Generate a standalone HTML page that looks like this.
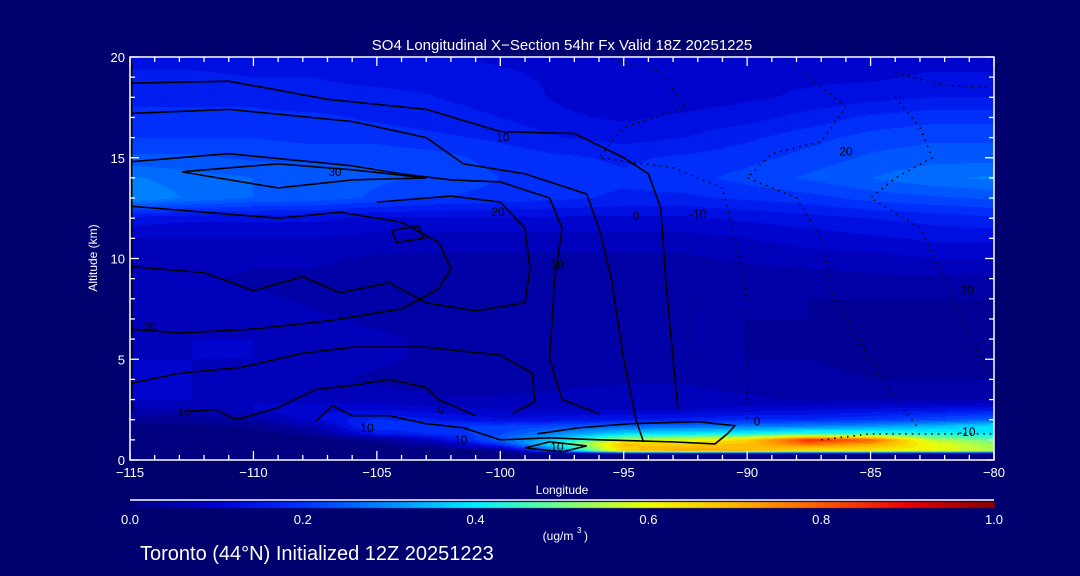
<!DOCTYPE html>
<html><head><meta charset="utf-8">
<style>
html,body{margin:0;padding:0;background:#00006e;}
#wrap{position:relative;width:1080px;height:576px;background:#00006e;overflow:hidden;font-family:"Liberation Sans",sans-serif;color:#fff;}
canvas{position:absolute;left:0;top:0;}
svg{position:absolute;left:0;top:0;}
</style></head>
<body>
<div id="wrap">
<canvas id="heat" width="1080" height="576"></canvas>
<svg id="ov" width="1080" height="576"></svg>
</div>
<script>
// ---- data ----
const lons = [-115,-112.5,-110,-107.5,-105,-102.5,-100,-97.5,-95,-92.5,-90,-87.5,-85,-82.5,-80];
const alts = [0,0.3,0.45,0.8,1,1.3,1.7,2,2.5,3,4,5,6,7,8,9,10,11,12,13,14,15,16,17,18,19,20];
const so4 = [
 [.01,.01,.01,.01,.01,.01,.01,.01,.01,.01,.01,.01,.01,.01,.01],
 [.01,.01,.01,.01,.01,.01,.01,.01,.01,.01,.01,.01,.01,.01,.01],
 [.01,.01,.01,.01,.01,.01,.02,.30,.66,.72,.70,.62,.62,.60,.55],
 [.01,.01,.01,.01,.02,.06,.20,.45,.68,.66,.68,.78,.72,.60,.52],
 [.01,.01,.01,.01,.03,.12,.25,.38,.55,.58,.66,.86,.80,.55,.48],
 [.01,.01,.01,.04,.15,.18,.22,.30,.38,.40,.42,.45,.45,.42,.40],
 [.02,.02,.03,.08,.20,.20,.20,.22,.25,.26,.27,.28,.30,.34,.38],
 [.03,.04,.06,.12,.18,.15,.13,.14,.15,.16,.18,.18,.20,.22,.25],
 [.07,.08,.10,.12,.12,.11,.10,.10,.10,.10,.11,.12,.13,.14,.15],
 [.10,.10,.10,.09,.09,.08,.08,.08,.09,.09,.08,.07,.07,.07,.07],
 [.11,.10,.09,.08,.07,.06,.06,.07,.07,.07,.06,.06,.05,.05,.05],
 [.10,.10,.10,.09,.08,.07,.06,.06,.06,.05,.05,.05,.04,.04,.04],
 [.09,.10,.10,.09,.08,.07,.06,.06,.05,.05,.05,.04,.04,.04,.04],
 [.08,.09,.09,.08,.07,.06,.06,.06,.05,.05,.05,.05,.04,.04,.04],
 [.08,.08,.08,.07,.06,.06,.06,.06,.05,.05,.05,.05,.05,.05,.05],
 [.08,.08,.07,.07,.06,.06,.06,.06,.06,.06,.06,.06,.07,.07,.07],
 [.09,.09,.08,.08,.07,.07,.07,.07,.07,.07,.08,.09,.09,.10,.10],
 [.10,.10,.10,.10,.09,.09,.09,.09,.09,.09,.10,.11,.12,.13,.13],
 [.14,.13,.13,.13,.12,.12,.12,.12,.12,.12,.13,.14,.15,.16,.17],
 [.30,.27,.25,.24,.22,.20,.19,.18,.17,.17,.18,.19,.21,.22,.23],
 [.28,.26,.25,.24,.23,.22,.20,.19,.18,.19,.21,.23,.25,.27,.28],
 [.23,.23,.22,.22,.22,.21,.19,.18,.17,.18,.19,.21,.23,.24,.24],
 [.20,.20,.20,.19,.19,.18,.17,.15,.14,.15,.17,.19,.21,.22,.22],
 [.18,.18,.18,.18,.17,.16,.15,.13,.12,.13,.14,.16,.18,.19,.19],
 [.17,.17,.17,.16,.16,.15,.14,.12,.11,.11,.12,.13,.14,.15,.15],
 [.16,.16,.15,.15,.14,.14,.13,.12,.12,.12,.12,.12,.12,.13,.13],
 [.13,.13,.13,.13,.13,.13,.12,.12,.11,.11,.11,.11,.11,.11,.11]
];
const xTicks = [-115,-110,-105,-100,-95,-90,-85,-80];
const yTicks = [0,5,10,15,20];
const cbTicks = ["0.0","0.2","0.4","0.6","0.8","1.0"];
const solidContours = [
 [[-115,18.7],[-111,18.8],[-107,17.9],[-103,17.4],[-100,16.3],[-97,16.2],[-95,15.0],[-94,14.2],[-93.5,12.5],[-93.3,9],[-93,5],[-92.8,2.5]],
 [[-115,17.2],[-111,17.4],[-106,16.8],[-103,16.0],[-101.5,14.7],[-99,14.2],[-96.5,13.2],[-96,11.5],[-95.5,9],[-95,5],[-94.5,2],[-94.2,0.9]],
 [[-115,14.8],[-111,15.2],[-106,14.6],[-104,14.2],[-102,13.9],[-100,13.8],[-98,13.0],[-97.5,11.5],[-97.8,9],[-98,5],[-97.5,3],[-96,2.3]],
 [[-112.9,14.3],[-109,14.7],[-106,14.4],[-103,14.0],[-106,13.9],[-109,13.5],[-112.9,14.3]],
 [[-115,12.6],[-112,12.3],[-109,12.0],[-106.5,12.3],[-104,11.8],[-102.5,10.8],[-102,9.5],[-102.5,8.5],[-104,7.5],[-107,6.9],[-110,6.5],[-113,6.3],[-115,6.5]],
 [[-115,9.6],[-112,9.3],[-110,8.4],[-108,9.1],[-106.5,8.3],[-104.5,8.8],[-103,7.8],[-101,7.4],[-99,7.8],[-98.8,9.5],[-99,11.5],[-100,12.8],[-102,13.1],[-105,12.8]],
 [[-104.4,11.4],[-103.3,11.6],[-103.1,11.0],[-104.2,10.8],[-104.4,11.4]],
 [[-115,3.8],[-113,4.3],[-110.5,4.6],[-108,5.3],[-106,5.6],[-103,5.6],[-100,5.2],[-98.7,4.3],[-98.6,2.9],[-99.5,2.3]],
 [[-113,2.4],[-111.5,2.5],[-110.7,2.0],[-109,2.6],[-107.5,3.5],[-106,3.7],[-104.5,4.0],[-103,3.6],[-102.5,3.0],[-101,2.2]],
 [[-107.5,1.9],[-106.8,2.7],[-106,2.2],[-104.5,2.2],[-103,1.8],[-101.5,1.6],[-100,1.0],[-98,1.1],[-96,1.0],[-93,0.9],[-91.3,0.8],[-90.8,1.3],[-90.5,1.7],[-92,1.9],[-94.7,1.8],[-96.8,1.6],[-98.5,1.3]],
 [[-99,0.6],[-98,0.9],[-96.5,0.7],[-97.5,0.4],[-99,0.6]]
];
const dottedContours = [
 [[-95.5,19.9],[-93.5,19.3],[-92.5,17.5],[-95,16.5],[-96,15.0],[-93,14.5],[-91,13.5],[-90.5,11],[-90,8],[-90,5],[-90,2]],
 [[-88.5,20],[-87,18.5],[-86,17.5],[-87,15.8],[-89,15.2],[-90,14.0],[-88,13.0],[-87,11],[-86.5,8],[-85,5],[-84,3],[-83,1.5]],
 [[-84,18],[-83,16.5],[-82.5,15],[-84,14],[-85,13],[-83,11.5],[-82,9],[-81,6],[-80,4]],
 [[-84,19.2],[-82,18.6],[-80.2,18.5]],
 [[-87,1.0],[-85,1.3],[-83,1.3],[-80,1.3]]
];
const labelText = ["10","30","20","0","-10","20","30","-10","20","10","10","10","10","0","0","10"];
const labelLon = [-99.9,-106.7,-100.1,-94.5,-92.0,-86.0,-81.1,-81.1,-114.2,-112.8,-105.4,-101.6,-97.7,-102.4,-89.6,-97.7];
const labelAlt = [16.0,14.3,12.3,12.1,12.2,15.3,8.4,1.4,6.6,2.4,1.6,1.0,0.65,2.5,1.9,9.7];

// ---- axes ----
const X0=130,X1=994,Y0=460,Y1=57;
const xs = lon => X0+(lon+115)/35*(X1-X0);
const ys = alt => Y0-alt/20*(Y0-Y1);
const cstops=[[0,[0,0,120]],[.1,[0,0,195]],[.15,[0,20,235]],[.2,[0,55,255]],[.3,[0,140,255]],[.4,[0,240,255]],[.5,[120,255,130]],[.6,[240,255,0]],[.7,[255,180,0]],[.8,[255,90,0]],[.9,[235,0,0]],[1,[130,0,0]]];
function cmap(v){v=Math.max(0,Math.min(1,v));for(let i=1;i<cstops.length;i++){if(v<=cstops[i][0]){const a=cstops[i-1],b=cstops[i];const t=(v-a[0])/(b[0]-a[0]);return a[1].map((c,k)=>Math.round(c+(b[1][k]-c)*t));}}return cstops[cstops.length-1][1];}
const cbStops=[[0,[0,0,130]],[.1,[0,0,210]],[.2,[0,50,255]],[.3,[0,140,255]],[.4,[0,240,255]],[.5,[120,255,130]],[.6,[240,255,0]],[.7,[255,180,0]],[.8,[255,90,0]],[.9,[235,0,0]],[1,[130,0,0]]];
function cbmap(v){for(let i=1;i<cbStops.length;i++){if(v<=cbStops[i][0]){const a=cbStops[i-1],b=cbStops[i];const t=(v-a[0])/(b[0]-a[0]);return a[1].map((c,k)=>Math.round(c+(b[1][k]-c)*t));}}return cbStops[cbStops.length-1][1];}
function findIdx(arr,v){for(let i=0;i<arr.length-1;i++){if(v<=arr[i+1])return i;}return arr.length-2;}
function field(lon,alt){const i=findIdx(lons,lon),j=findIdx(alts,alt);const tx=(lon-lons[i])/(lons[i+1]-lons[i]);const ty=(alt-alts[j])/(alts[j+1]-alts[j]);
 const a=so4[j][i],b=so4[j][i+1],c=so4[j+1][i],d=so4[j+1][i+1];return (a*(1-tx)+b*tx)*(1-ty)+(c*(1-tx)+d*tx)*ty;}
// heatmap
const ctx=document.getElementById('heat').getContext('2d');
const W=X1-X0,H=Y0-Y1;const img=ctx.createImageData(W,H);
for(let py=0;py<H;py++){const alt=(Y0-(Y1+py+0.5))/(Y0-Y1)*20;for(let px=0;px<W;px++){const lon=-115+(px+0.5)/W*35;let v=field(lon,alt);v=Math.floor(v/0.025)*0.025+0.0125;const c=cmap(v);const k=(py*W+px)*4;img.data[k]=c[0];img.data[k+1]=c[1];img.data[k+2]=c[2];img.data[k+3]=255;}}
ctx.putImageData(img,X0,Y1);
// colorbar
for(let x=X0;x<=X1;x++){const c=cbmap((x-X0)/(X1-X0));ctx.fillStyle='rgb('+c.join(',')+')';ctx.fillRect(x,502,1,6);}

const NS='http://www.w3.org/2000/svg';const svg=document.getElementById('ov');
function mk(tag,attrs,parent){const e=document.createElementNS(NS,tag);for(const k in attrs)e.setAttribute(k,attrs[k]);(parent||svg).appendChild(e);return e;}
function txt(s,x,y,size,anchor,parent){const e=mk('text',{x:x,y:y,'font-size':size,'text-anchor':anchor||'middle',fill:'#fff','font-family':'Liberation Sans, sans-serif'},parent);e.textContent=s;return e;}

// contours
const gC=mk('g',{});
solidContours.forEach(c=>{const p=mk('polyline',{points:c.map(q=>xs(q[0])+','+ys(q[1])).join(' '),fill:'none',stroke:'#000','stroke-width':1.6},gC);

});
dottedContours.forEach(c=>{const p=mk('polyline',{points:c.map(q=>xs(q[0])+','+ys(q[1])).join(' '),fill:'none',stroke:'#000','stroke-width':1.6,'stroke-dasharray':'1.5 5'},gC);

});
labelText.forEach((s,i)=>{const t=mk('text',{x:xs(labelLon[i]),y:ys(labelAlt[i])+4,'font-size':12,'text-anchor':'middle',fill:'#000','font-family':'Liberation Sans, sans-serif'},gC);t.textContent=s;

});
// left black boundary line
mk('line',{x1:X0+1,y1:Y1+3,x2:X0+1,y2:ys(2.4),stroke:'#000','stroke-width':3});

// frame
const fr=mk('rect',{x:X0,y:Y1,width:W,height:H,fill:'none',stroke:'#fff','stroke-width':1.5});


// x ticks
const gx=mk('g',{});
for(let l=-115;l<=-80;l++){const major=(l%5===0);mk('line',{x1:xs(l),x2:xs(l),y1:Y0,y2:Y0-(major?9:5),stroke:'#fff','stroke-width':1.3},gx);mk('line',{x1:xs(l),x2:xs(l),y1:Y1,y2:Y1+(major?9:5),stroke:'#fff','stroke-width':1.3},gx);}
xTicks.forEach(l=>{const t=txt('\u2212'+Math.abs(l),xs(l),477,13,'middle',gx);});
const xt=txt('Longitude',562,494,12,'middle');
// y ticks
const gy=mk('g',{});
for(let a=0;a<=20;a++){const major=(a%5===0);mk('line',{x1:X0,x2:X0+(major?9:5),y1:ys(a),y2:ys(a),stroke:'#fff','stroke-width':1.3},gy);mk('line',{x1:X1,x2:X1-(major?9:5),y1:ys(a),y2:ys(a),stroke:'#fff','stroke-width':1.3},gy);}
yTicks.forEach(a=>{const t=txt(String(a),125,ys(a)+5,13,'end',gy);});
const yt=txt('Altitude (km)',0,0,12,'middle');yt.setAttribute('transform','translate(97,258) rotate(-90)');
// title
const tt=txt('SO4 Longitudinal X\u2212Section 54hr  Fx Valid 18Z 20251225',562,50,15,'middle');tt.setAttribute('xml:space','preserve');
// colorbar
const gcb=mk('g',{});
mk('line',{x1:X0,x2:X1,y1:500,y2:500,stroke:'#fff','stroke-width':1.5},gcb);
cbTicks.forEach((s,i)=>{const t=txt(s,X0+i*(X1-X0)/5,524,13,'middle',gcb);});
const un=txt('(ug/m',558,540,12,'middle',gcb);
txt('3',577,533,8,'start',gcb);txt(')',584,540,12,'start',gcb);
const bt=txt('Toronto (44\u00b0N) Initialized 12Z 20251223',140,560,20,'start');
</script>
</body></html>
